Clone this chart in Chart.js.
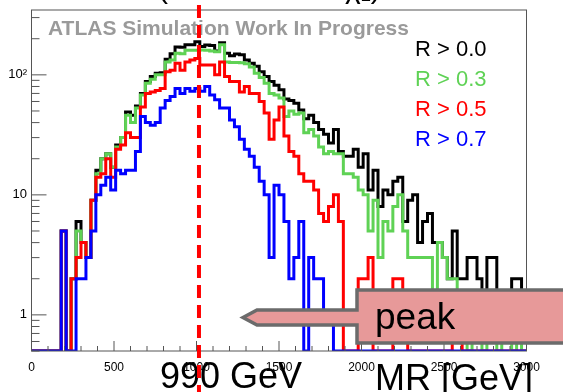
<!DOCTYPE html>
<html>
<head>
<meta charset="utf-8">
<title>MR distribution</title>
<script src="https://cdn.jsdelivr.net/npm/chart.js@4.4.1/dist/chart.umd.min.js"></script>
<style>
  html, body { margin: 0; padding: 0; background: #fff; }
  #wrap { width: 563px; height: 392px; }
</style>
</head>
<body>
<div id="wrap"><canvas id="mrChart" width="563" height="392"></canvas></div>
<script>
// binning of the histograms (GeV)
const xMin = 0;
const xMax = 3000;
const binWidth = 30;

// y range of the log axis
const yMin = 0.5;
const yMax = 347;

// entries per bin for each R cut
const countsR00 = [
    0, 0, 0, 0, 0, 0, 5, 0, 2, 6,
    4, 3, 9, 16, 20, 22, 17, 26, 30, 49,
    46, 55, 70, 88, 97, 103, 104, 135, 150, 171,
    170, 178, 178, 189, 172, 177, 176, 158, 185, 151,
    144, 149, 147, 133, 125, 118, 106, 97, 88, 82,
    75, 63, 61, 58, 51, 43, 46, 40, 35, 32,
    27, 35, 23, 21, 21, 24, 17, 22, 11, 16,
    8, 11, 10, 13, 14, 6, 9, 10, 4, 6,
    7, 4, 4, 3, 2, 5, 2, 2, 3, 3,
    2, 1, 3, 3, 1, 1, 1, 2, 2, 1,
];
const countsR03 = [
    0, 0, 0, 0, 0, 0, 5, 0, 2, 5,
    4, 3, 9, 15, 20, 22, 17, 25, 30, 46,
    40, 53, 68, 85, 92, 100, 100, 128, 133, 151,
    150, 160, 160, 160, 161, 160, 158, 156, 178, 128,
    127, 127, 126, 124, 116, 103, 95, 85, 70, 68,
    64, 45, 50, 47, 48, 33, 35, 31, 25, 22,
    23, 22, 22, 15, 15, 14, 11, 10, 5, 9,
    3, 6, 5, 8, 10, 5, 3, 3, 3, 3,
    3, 1, 4, 3, 2, 2, 1, 1, 0, 1,
    1, 0, 1, 1, 0, 1, 1, 0, 1, 0,
];
const countsR05 = [
    0, 0, 0, 0, 0, 0, 5, 0, 2, 3,
    4, 3, 9, 14, 15, 20, 14, 24, 26, 33,
    30, 30, 54, 70, 72, 74, 77, 106, 109, 125,
    109, 128, 133, 137, 121, 121, 121, 100, 128, 97,
    88, 88, 72, 80, 70, 70, 60, 48, 29, 42,
    54, 31, 23, 21, 15, 13, 13, 11, 7, 6,
    8, 10, 6, 0, 0, 0, 2, 2, 3, 0,
    0, 0, 0, 2, 2, 1, 0, 0, 0, 0,
    0, 0, 0, 0, 0, 1, 1, 0, 0, 0,
    0, 0, 0, 0, 0, 0, 0, 0, 0, 0,
];
const countsR07 = [
    0, 0, 0, 0, 0, 0, 5, 0, 0, 2,
    2, 3, 5, 10, 12, 14, 11, 16, 15, 16,
    16, 23, 45, 40, 38, 40, 53, 61, 66, 77,
    70, 77, 73, 77, 73, 80, 68, 62, 53, 53,
    42, 37, 29, 24, 21, 17, 13, 10, 3, 12,
    10, 6, 2, 3, 6, 0, 3, 2, 2, 1,
    1, 0, 0, 0, 0, 0, 0, 0, 0, 0,
    0, 0, 0, 0, 0, 0, 0, 0, 0, 0,
    0, 0, 0, 0, 0, 0, 0, 0, 0, 0,
    0, 0, 0, 0, 0, 0, 0, 0, 0, 0,
];

const seriesLabels = ["R > 0.0", "R > 0.3", "R > 0.5", "R > 0.7"];
const seriesColors = ["#000000", "#5fd255", "#ff0000", "#0000ff"];

// axis ticks
const xMajorTicks = [0, 500, 1000, 1500, 2000, 2500, 3000];
const xMinorStep = 100;
const yMajorTicks = [1, 10, 100];
const yTickLabels = ["1", "10", "10\u00b2"];

// dashed marker of the peak
const peakPosition = 1015;

const fontFamily = "'Liberation Sans', Arial, sans-serif";

// histogram -> points at both bin edges (empty bins sit on the bottom of the frame)
function histogramPoints(counts) {
    const points = [];
    counts.forEach((c, i) => {
        const v = c > 0 ? c : yMin;
        points.push({ x: xMin + i * binWidth, y: v });
        points.push({ x: xMin + (i + 1) * binWidth, y: v });
    });
    return points;
}

const allCounts = [countsR00, countsR03, countsR05, countsR07];
const datasets = allCounts.map((counts, i) => ({
    label: seriesLabels[i],
    data: histogramPoints(counts),
    borderColor: seriesColors[i],
    borderWidth: 3,
    pointRadius: 0,
    fill: false,
    tension: 0,
    order: allCounts.length - i,
}));

function line(ctx, x1, y1, x2, y2) {
    ctx.beginPath();
    ctx.moveTo(x1, y1);
    ctx.lineTo(x2, y2);
    ctx.stroke();
}

// frame, ticks, labels, annotations
const decorations = {
    id: "decorations",
    afterDatasetsDraw(chart) {
        const { ctx, chartArea: area } = chart;
        const xs = chart.scales.x;
        const ys = chart.scales.y;
        ctx.save();

        // frame
        ctx.strokeStyle = "#555";
        ctx.lineWidth = 1;
        ctx.strokeRect(area.left, area.top, area.right - area.left, area.bottom - area.top);

        // x ticks (inside)
        for (let v = xMin; v <= xMax; v += xMinorStep) {
            const px = xs.getPixelForValue(v);
            const len = xMajorTicks.includes(v) ? 10 : 5;
            line(ctx, px, area.bottom, px, area.bottom - len);
        }
        // y ticks (inside)
        for (let d = -1; d <= 3; d++) {
            for (let m = 1; m <= 9; m++) {
                const v = m * Math.pow(10, d);
                if (v < yMin || v > yMax) continue;
                const py = ys.getPixelForValue(v);
                line(ctx, area.left, py, area.left + (m === 1 ? 15 : 8), py);
            }
        }

        // tick labels
        ctx.fillStyle = "#000";
        ctx.font = "12px " + fontFamily;
        ctx.textAlign = "center";
        ctx.textBaseline = "alphabetic";
        xMajorTicks.forEach((v) => {
            ctx.fillText(String(v), xs.getPixelForValue(v), 371);
        });
        ctx.font = "13px " + fontFamily;
        ctx.textAlign = "right";
        ctx.textBaseline = "middle";
        yMajorTicks.forEach((v, i) => {
            ctx.fillText(yTickLabels[i], 27, ys.getPixelForValue(v));
        });

        // title remains at the very top
        ctx.textAlign = "left";
        ctx.textBaseline = "alphabetic";
        ctx.font = "30px " + fontFamily;
        ctx.fillText("(", 158, -2);
        ctx.fillText("\u03c7\u2081)", 345, -2);

        // ATLAS label
        ctx.fillStyle = "#9a9a9a";
        ctx.font = "bold 21px " + fontFamily;
        ctx.fillText("ATLAS Simulation Work In Progress", 48, 35);

        // legend
        ctx.font = "22px " + fontFamily;
        seriesLabels.forEach((label, i) => {
            ctx.fillStyle = seriesColors[i];
            ctx.fillText(label, 415, 55.5 + i * 30.2);
        });

        // "peak" arrow box
        ctx.beginPath();
        ctx.moveTo(243, 317.5);
        ctx.lineTo(257, 310);
        ctx.lineTo(357, 310);
        ctx.lineTo(357, 290);
        ctx.lineTo(580, 290);
        ctx.lineTo(580, 343);
        ctx.lineTo(357, 343);
        ctx.lineTo(357, 325);
        ctx.lineTo(257, 325);
        ctx.closePath();
        ctx.fillStyle = "#e79999";
        ctx.fill();
        ctx.lineWidth = 3.5;
        ctx.strokeStyle = "#6b6b6b";
        ctx.lineJoin = "miter";
        ctx.stroke();

        ctx.fillStyle = "#000";
        ctx.font = "37px " + fontFamily;
        ctx.fillText("peak", 375, 329);

        // big labels under the axis
        ctx.font = "36px " + fontFamily;
        ctx.fillText("990 GeV", 160, 388);
        ctx.fillText("MR [GeV]", 375, 390);

        // dashed peak marker
        const px = xs.getPixelForValue(peakPosition);
        ctx.strokeStyle = "#ff0000";
        ctx.lineWidth = 4;
        ctx.setLineDash([13, 7]);
        ctx.lineDashOffset = -5;
        line(ctx, px, 0, px, chart.height);

        ctx.restore();
    },
};

new Chart(document.getElementById("mrChart"), {
    type: "line",
    data: { datasets: datasets },
    options: {
        responsive: false,
        animation: false,
        devicePixelRatio: 1,
        layout: { padding: { left: 31.5, right: 36.5, top: 10, bottom: 41 } },
        scales: {
            x: { type: "linear", min: xMin, max: xMax, display: false },
            y: { type: "logarithmic", min: yMin, max: yMax, display: false },
        },
        plugins: {
            legend: { display: false },
            tooltip: { enabled: false },
        },
    },
    plugins: [decorations],
});
</script>
</body>
</html>
